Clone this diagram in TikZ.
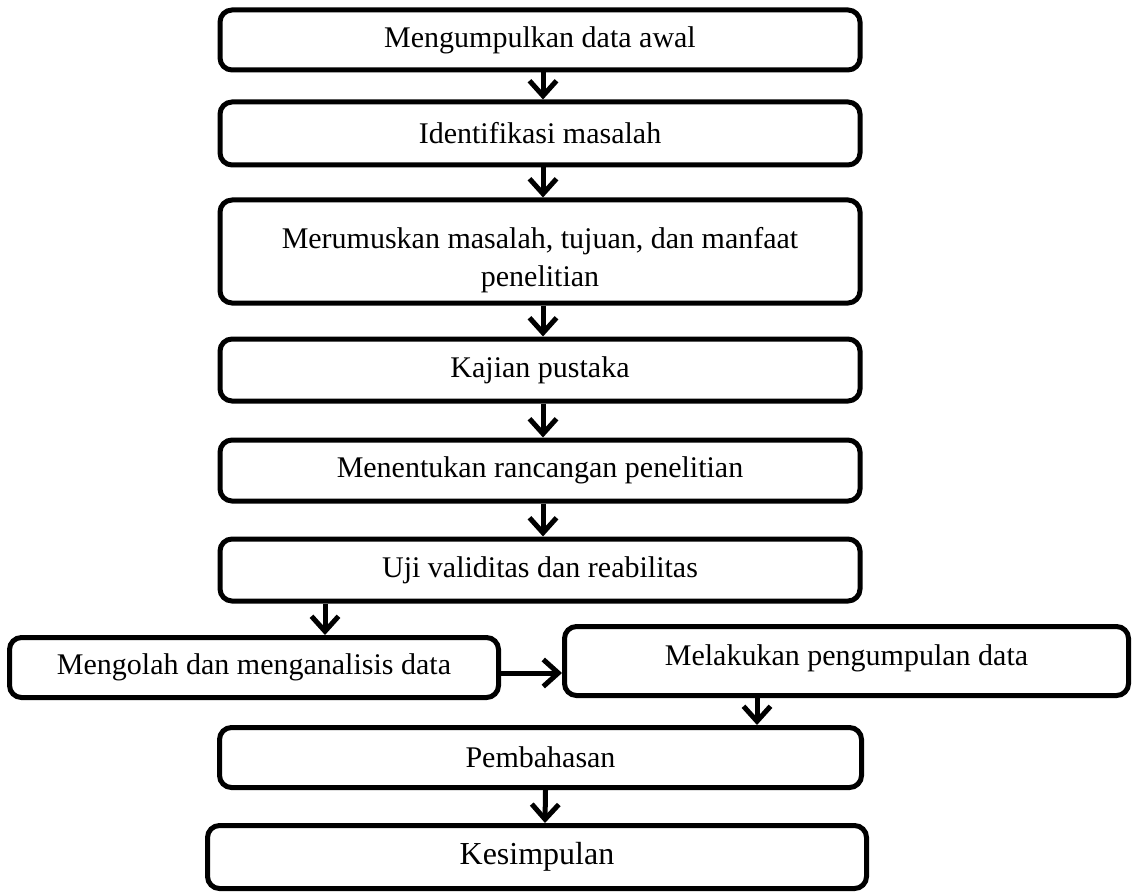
\documentclass[tikz,border=0pt]{standalone}
\usepackage{fontspec}
\setmainfont{Liberation Serif}
\usetikzlibrary{arrows.meta}
\begin{document}
\begin{tikzpicture}[x=1pt,y=-1pt,
  stepbox/.style={draw=black, line width=5pt, rounded corners=12pt, fill=white,
    inner sep=0pt, align=center, font=\fontsize{30}{38}\selectfont},
  flowarrow/.style={line width=5pt, -{Straight Barb[length=15pt,width=27pt]}}]
\useasboundingbox (0,0) rectangle (1132,896);
\node[stepbox, minimum width=640pt, minimum height=60pt] (b1) at (540,40) {Mengumpulkan data awal};
\node[stepbox, minimum width=640pt, minimum height=63pt] (b2) at (540,133.5) {Identifikasi masalah};
\node[stepbox, minimum width=640pt, minimum height=103pt] (b3) at (540,251.5) {\raisebox{-8pt}[\height][\depth]{\begin{tabular}{@{}c@{}}Merumuskan masalah, tujuan, dan manfaat\\penelitian\end{tabular}}};
\node[stepbox, minimum width=640pt, minimum height=62pt] (b4) at (540,370) {Kajian pustaka};
\node[stepbox, minimum width=640pt, minimum height=61pt] (b5) at (540,470.5) {Menentukan rancangan penelitian};
\node[stepbox, minimum width=640pt, minimum height=62pt] (b6) at (540,570) {Uji validitas dan reabilitas};
\node[stepbox, minimum width=489pt, minimum height=60pt] (b7) at (254,667.5) {Mengolah dan menganalisis data};
\node[stepbox, minimum width=564pt, minimum height=69pt] (b8) at (846.5,661) {\raisebox{3pt}[\height][\depth]{Melakukan pengumpulan data}};
\node[stepbox, minimum width=642pt, minimum height=60pt] (b9) at (540.5,757.5) {Pembahasan};
\node[stepbox, minimum width=659pt, minimum height=63pt, font=\fontsize{32}{38}\selectfont] (b10) at (537,857) {Kesimpulan};

\draw[flowarrow] ([xshift=3pt]b1.south) -- ([xshift=3pt]b2.north);
\draw[flowarrow] ([xshift=3pt]b2.south) -- ([xshift=3pt]b3.north);
\draw[flowarrow] ([xshift=3pt]b3.south) -- ([xshift=3pt]b4.north);
\draw[flowarrow] ([xshift=3pt]b4.south) -- ([xshift=3pt]b5.north);
\draw[flowarrow] ([xshift=3pt]b5.south) -- ([xshift=3pt]b6.north);
\draw[flowarrow] (b6.south -| 325,0) -- (b7.north -| 325,0);
\draw[flowarrow] (b7.east |- 0,673) -- (b8.west |- 0,673);
\draw[flowarrow] (b8.south -| 757,0) -- (b9.north -| 757,0);
\draw[flowarrow] ([xshift=5pt]b9.south) -- ([xshift=8pt]b10.north);
\end{tikzpicture}
\end{document}
